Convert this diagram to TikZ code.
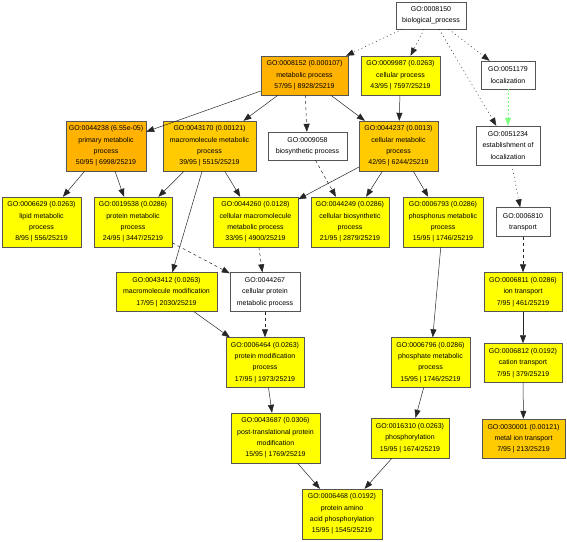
\documentclass[tikz,border=0pt]{standalone}
\usepackage{fontspec}
\setmainfont{Liberation Sans}
\usetikzlibrary{arrows.meta}

\definecolor{goyellow}{RGB}{255,255,0}
\definecolor{goorange}{RGB}{255,178,0}
\definecolor{gogold}{RGB}{255,202,0}
\definecolor{golink}{RGB}{128,255,128}
\definecolor{goframe}{RGB}{85,85,85}

\begin{document}
\begin{tikzpicture}[x=1pt, y=-1pt,
    >={Triangle[length=8pt,width=6pt]},
    term/.style args={#1/#2}{draw=goframe, fill=white, align=center, inner sep=1pt,
      font=\fontsize{7}{11.3}\selectfont, minimum width=#1pt, minimum height=#2pt},
    isa/.style={->, draw=black!85, line width=0.5pt},
    partof/.style={->, draw=black!85, line width=0.5pt, dashed},
    rootedge/.style={->, draw=black!85, line width=0.5pt, dash pattern=on 1pt off 3pt},
    greenedge/.style={->, draw=golink, line width=0.6pt, dash pattern=on 1.5pt off 2.5pt}]
      \useasboundingbox (0,0) rectangle (567,541);
      % row 0
      \node[term=70/27] (g8150) at (431, 15.5) {GO:0008150\\biological\_process};
      % row 1
      \node[term=87/39, fill=goorange] (g8152) at (304.5, 75.5) {GO:0008152 (0.000107)\\metabolic process\\57/95 | 8928/25219};
      \node[term=79/39, fill=goyellow] (g9987) at (400.5, 75.5) {GO:0009987 (0.0263)\\cellular process\\43/95 | 7597/25219};
      \node[term=54/28] (g51179) at (508, 75) {GO:0051179\\localization};
      % row 2
      \node[term=80/50, fill=goorange] (g44238) at (106, 146) {GO:0044238 (6.55e-05)\\primary metabolic\\process\\50/95 | 6998/25219};
      \node[term=93/50, fill=gogold] (g43170) at (209.5, 146) {GO:0043170 (0.00121)\\macromolecule metabolic\\process\\39/95 | 5515/25219};
      \node[term=79/28] (g9058) at (307.5, 146) {GO:0009058\\biosynthetic process};
      \node[term=79/50, fill=gogold] (g44237) at (398.5, 146) {GO:0044237 (0.0013)\\cellular metabolic\\process\\42/95 | 6244/25219};
      \node[term=64/39] (g51234) at (508, 145.5) {GO:0051234\\establishment of\\localization};
      % row 3
      \node[term=79/50, fill=goyellow] (g6629) at (41.5, 222) {GO:0006629 (0.0263)\\lipid metabolic\\process\\8/95 | 556/25219};
      \node[term=78/50, fill=goyellow] (g19538) at (133, 222) {GO:0019538 (0.0286)\\protein metabolic\\process\\24/95 | 3447/25219};
      \node[term=85/50, fill=goyellow] (g44260) at (255.5, 222) {GO:0044260 (0.0128)\\cellular macromolecule\\metabolic process\\33/95 | 4900/25219};
      \node[term=78/50, fill=goyellow] (g44249) at (350, 222) {GO:0044249 (0.0286)\\cellular biosynthetic\\process\\21/95 | 2879/25219};
      \node[term=80/50, fill=goyellow] (g6793) at (443, 222) {GO:0006793 (0.0286)\\phosphorus metabolic\\process\\15/95 | 1746/25219};
      \node[term=54/29] (g6810) at (523, 222) {GO:0006810\\transport};
      % row 4
      \node[term=101/39, fill=goyellow] (g43412) at (166.5, 292) {GO:0043412 (0.0263)\\macromolecule modification\\17/95 | 2030/25219};
      \node[term=70/39] (g44267) at (265, 292) {GO:0044267\\cellular protein\\metabolic process};
      \node[term=78/39, fill=goyellow] (g6811) at (523, 292) {GO:0006811 (0.0286)\\ion transport\\7/95 | 461/25219};
      % row 5
      \node[term=78/50, fill=goyellow] (g6464) at (265, 362.5) {GO:0006464 (0.0263)\\protein modification\\process\\17/95 | 1973/25219};
      \node[term=79/50, fill=goyellow] (g6796) at (430.5, 362.5) {GO:0006796 (0.0286)\\phosphate metabolic\\process\\15/95 | 1746/25219};
      \node[term=78/39, fill=goyellow] (g6812) at (523, 363) {GO:0006812 (0.0192)\\cation transport\\7/95 | 379/25219};
      % row 6
      \node[term=89/50, fill=goyellow] (g43687) at (275.5, 438) {GO:0043687 (0.0306)\\post-translational protein\\modification\\15/95 | 1769/25219};
      \node[term=78/40, fill=goyellow] (g16310) at (410, 438) {GO:0016310 (0.0263)\\phosphorylation\\15/95 | 1674/25219};
      \node[term=83/39, fill=gogold] (g30001) at (523.5, 438.5) {GO:0030001 (0.00121)\\metal ion transport\\7/95 | 213/25219};
      % row 7
      \node[term=80/50, fill=goyellow] (g6468) at (342, 514) {GO:0006468 (0.0192)\\protein amino\\acid phosphorylation\\15/95 | 1545/25219};

      % edges
      \draw[rootedge] (g8150) -- (g8152);
      \draw[rootedge] (g8150) -- (g9987);
      \draw[rootedge] (g8150) -- (g51179);
      \draw[rootedge] (g8150) -- (g51234);
      \draw[greenedge] (g51179) -- (g51234);
      \draw[isa] (g8152) -- (g44238);
      \draw[isa] (g8152) -- (g43170);
      \draw[partof] (g8152) -- (g9058);
      \draw[isa] (g8152) -- (g44237);
      \draw[isa] (g9987) -- (g44237);
      \draw[isa] (g44238) -- (g6629);
      \draw[isa] (g44238) -- (g19538);
      \draw[isa] (g43170) -- (g19538);
      \draw[isa] (g43170) -- (g44260);
      \draw[isa] (g43170) -- (g43412);
      \draw[partof] (g9058) -- (g44249);
      \draw[isa] (g44237) -- (g44260);
      \draw[isa] (g44237) -- (g44249);
      \draw[isa] (g44237) -- (g6793);
      \draw[rootedge] (g51234) -- (g6810);
      \draw[partof] (g6810) -- (g6811);
      \draw[partof] (g19538) -- (g44267);
      \draw[partof] (g44260) -- (g44267);
      \draw[isa] (g43412) -- (g6464);
      \draw[partof] (g44267) -- (g6464);
      \draw[isa] (g6793) -- (g6796);
      \draw[isa] (g6811) -- (g6812);
      \draw[isa] (g6464) -- (g43687);
      \draw[isa] (g6796) -- (g16310);
      \draw[isa] (g6812) -- (g30001);
      \draw[isa] (g43687) -- (g6468);
      \draw[isa] (g16310) -- (g6468);
    \end{tikzpicture}
\end{document}
